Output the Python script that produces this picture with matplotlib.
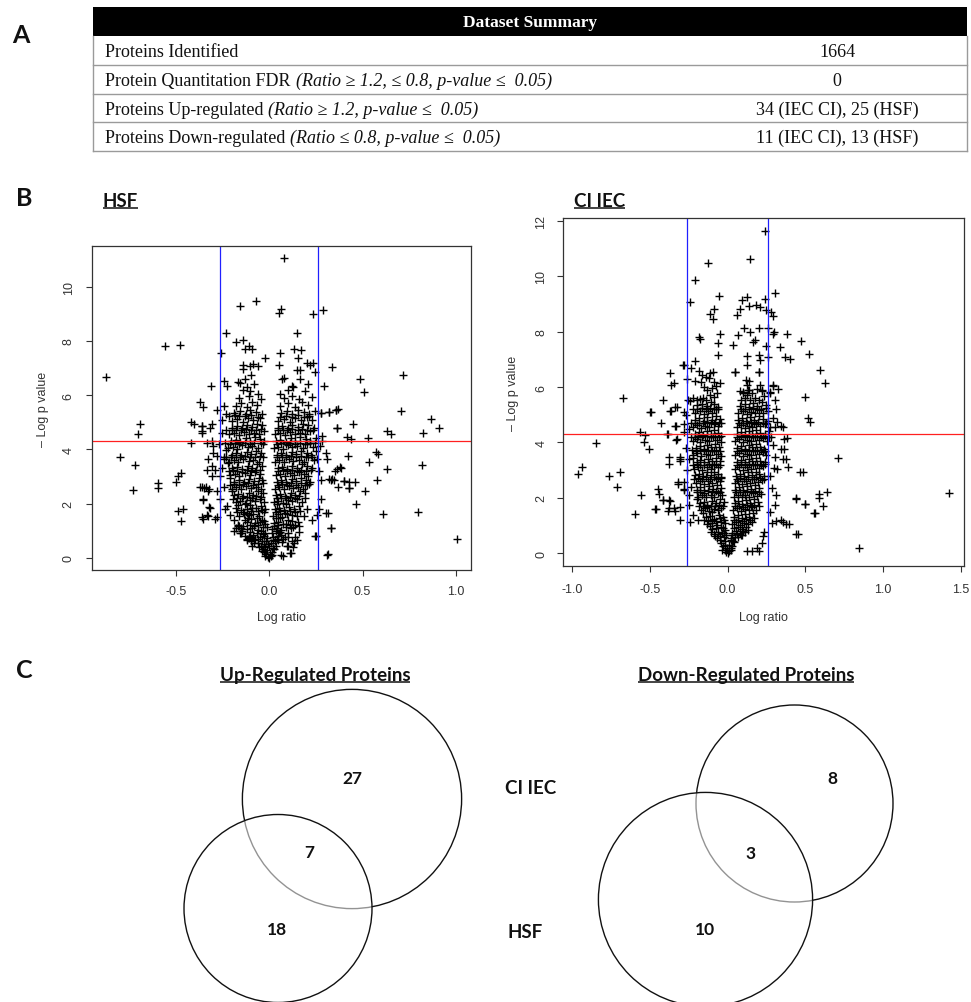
import numpy as np
import matplotlib
matplotlib.use("Agg")
import matplotlib.pyplot as plt
from matplotlib.patches import Circle, Rectangle

plt.rcParams['font.family'] = ['Liberation Sans', 'DejaVu Sans']
plt.rcParams['axes.unicode_minus'] = False

# ---------------- data ----------------
table_header = "Dataset Summary"
table_rows = ["Proteins Identified", "Protein Quantitation FDR",
              "Proteins Up-regulated", "Proteins Down-regulated"]
table_notes = ["", "(Ratio \u2265 1.2, \u2264 0.8, p-value \u2264  0.05)",
               "(Ratio \u2265 1.2, p-value \u2264  0.05)",
               "(Ratio \u2264 0.8, p-value \u2264  0.05)"]
table_values = ["1664", "0", "34 (IEC CI), 25 (HSF)", "11 (IEC CI), 13 (HSF)"]

pval_cut = 0.05
ratio_cut = 1.2

# HSF volcano (log ratio, -log p)
hsf_outer = [
    (-0.875, 6.67), (-0.80, 3.72), (-0.72, 3.42), (-0.73, 2.49), (-0.70, 4.58), (-0.69, 4.93),
    (-0.56, 7.82), (-0.48, 7.84), (-0.595, 2.77), (-0.595, 2.59), (-0.50, 2.80), (-0.49, 3.02),
    (-0.47, 3.14), (-0.49, 1.72), (-0.46, 1.81), (-0.47, 1.35), (-0.42, 4.25), (-0.42, 4.99),
    (-0.40, 4.95), (-0.37, 5.73), (-0.355, 5.58), (-0.36, 4.86), (-0.36, 4.62), (-0.37, 2.61),
    (-0.34, 2.61), (-0.355, 2.12), (-0.355, 1.42), (-0.33, 1.54), (-0.32, 1.87), (-0.31, 6.32),
    (-0.32, 2.52), (-0.29, 1.42), (-0.23, 8.31), (-0.26, 7.57), (-0.24, 6.53), (-0.225, 6.34),
    (-0.175, 7.97), (-0.14, 8.03), (-0.157, 9.28), (-0.07, 9.48), (-0.02, 7.36), (0.079, 11.05),
    (0.052, 9.03), (0.064, 9.17), (0.236, 9.01), (0.286, 9.15), (0.15, 8.31), (0.335, 7.02),
    (0.296, 6.34), (0.484, 6.59), (0.51, 6.10), (0.716, 6.74), (0.704, 5.42), (0.864, 5.11),
    (0.912, 4.78), (0.825, 4.62), (0.82, 3.42), (0.448, 4.95), (0.418, 4.46), (0.44, 4.37),
    (0.53, 4.43), (0.632, 4.68), (0.654, 4.56), (0.36, 5.44), (0.37, 5.47), (0.364, 4.77),
    (0.323, 5.38), (0.279, 5.33), (0.382, 3.33), (0.355, 3.20), (0.42, 3.76), (0.40, 2.83),
    (0.427, 2.80), (0.462, 2.80), (0.427, 2.59), (0.368, 2.61), (0.32, 2.89), (0.334, 2.89),
    (0.534, 3.55), (0.57, 3.90), (0.582, 3.82), (0.632, 3.29), (0.579, 2.86), (0.512, 2.46),
    (0.466, 1.99), (0.61, 1.60), (0.796, 1.69), (1.004, 0.70), (0.316, 1.64), (0.332, 1.08),
    (0.314, 0.12), (0.248, 0.80), (0.075, 0.06), (0.11, 0.18),
]
hsf_edge = [
    (-0.36, 4.86), (-0.36, 4.67), (-0.315, 4.80), (-0.307, 4.92), (-0.334, 4.24), (-0.307, 4.30),
    (-0.298, 4.12), (-0.298, 3.87), (-0.28, 3.75), (-0.325, 3.63), (-0.307, 3.38), (-0.29, 3.25),
    (-0.334, 3.25), (-0.307, 3.00), (-0.262, 3.00), (-0.253, 3.32), (-0.244, 3.63), (-0.36, 2.60),
    (-0.348, 2.58), (-0.325, 2.46), (-0.28, 2.46), (-0.244, 2.60), (-0.352, 2.15), (-0.316, 1.84),
    (-0.262, 2.15), (-0.235, 1.78), (-0.208, 1.59), (-0.19, 1.40), (-0.226, 1.90), (-0.28, 1.50),
    (-0.36, 1.50), (-0.334, 1.56), (-0.25, 4.60), (-0.27, 4.20), (-0.24, 3.70), (-0.28, 5.45),
    (-0.25, 5.10), (-0.23, 5.30), (-0.24, 5.60), (-0.143, 0.97), (-0.161, 1.16), (-0.179, 1.10),
    (-0.118, 0.67), (-0.10, 0.79), (-0.091, 0.42), (-0.19, 1.00), (-0.168, 1.17), (-0.154, 0.92),
    (-0.109, 0.74), (-0.082, 0.55),
    (0.276, 5.35), (0.32, 5.37), (0.356, 5.45), (0.365, 4.79), (0.283, 4.50), (0.283, 4.30),
    (0.274, 4.12), (0.258, 3.63), (0.267, 3.20), (0.303, 3.87), (0.312, 3.63), (0.276, 2.88),
    (0.33, 2.88), (0.347, 2.88), (0.365, 3.26), (0.383, 3.32), (0.40, 2.82), (0.428, 2.58),
    (0.276, 2.15), (0.267, 1.78), (0.303, 1.66), (0.258, 1.59), (0.33, 1.10), (0.312, 0.11),
    (0.249, 0.79), (0.231, 1.41), (0.204, 1.78), (0.186, 1.53), (0.159, 1.16), (0.15, 0.67),
    (0.133, 0.55), (0.115, 0.17), (0.097, 0.42), (0.061, 0.11), (0.12, 0.60), (0.14, 0.75),
    (0.10, 0.45), (0.16, 0.95), (0.13, 0.40),
]
hsf_left = [
    (-0.005, 0.03), (0.0, 0.0), (-0.015, 0.12), (-0.025, 0.20), (-0.01, 0.28), (-0.035, 0.33),
    (-0.02, 0.40), (-0.045, 0.45), (-0.03, 0.50), (-0.06, 0.55), (-0.04, 0.60), (-0.015, 0.62),
    (-0.075, 0.70), (-0.05, 0.75), (-0.03, 0.80), (-0.085, 0.85), (-0.065, 0.90), (-0.02, 0.92),
    (-0.045, 0.97), (-0.10, 0.95), (-0.08, 0.65), (-0.15, 0.90), (-0.13, 0.80), (-0.12, 0.70),
    (-0.12, 1.05), (-0.09, 1.10), (-0.06, 1.02), (-0.035, 1.15), (-0.105, 1.22), (-0.075, 1.28),
    (-0.05, 1.30), (-0.02, 1.25), (-0.13, 1.38), (-0.095, 1.42), (-0.065, 1.45), (-0.04, 1.40),
    (-0.15, 1.10), (-0.115, 1.48), (-0.16, 1.55), (-0.135, 1.60), (-0.11, 1.58), (-0.085, 1.62),
    (-0.055, 1.55), (-0.03, 1.68), (-0.15, 1.75), (-0.12, 1.80), (-0.095, 1.72), (-0.07, 1.85),
    (-0.045, 1.90), (-0.165, 1.95), (-0.13, 1.97), (-0.10, 1.93), (-0.02, 1.80), (-0.18, 2.05),
    (-0.155, 2.10), (-0.125, 2.02), (-0.10, 2.12), (-0.075, 2.08), (-0.05, 2.15), (-0.03, 2.05),
    (-0.19, 2.30), (-0.165, 2.35), (-0.14, 2.28), (-0.11, 2.40), (-0.085, 2.32), (-0.06, 2.45),
    (-0.035, 2.38), (-0.20, 2.48), (-0.20, 2.55), (-0.175, 2.60), (-0.15, 2.52), (-0.125, 2.65),
    (-0.095, 2.58), (-0.07, 2.62), (-0.045, 2.55), (-0.19, 2.80), (-0.16, 2.85), (-0.135, 2.78),
    (-0.11, 2.90), (-0.08, 2.82), (-0.055, 2.95), (-0.035, 2.75), (-0.21, 2.95), (-0.21, 3.05),
    (-0.185, 3.10), (-0.16, 3.02), (-0.13, 3.12), (-0.105, 3.05), (-0.075, 3.15), (-0.05, 3.08),
    (-0.20, 3.30), (-0.17, 3.35), (-0.145, 3.28), (-0.115, 3.40), (-0.09, 3.32), (-0.065, 3.45),
    (-0.04, 3.38), (-0.22, 3.48), (-0.215, 3.55), (-0.19, 3.60), (-0.165, 3.52), (-0.14, 3.65),
    (-0.11, 3.58), (-0.085, 3.62), (-0.055, 3.55), (-0.035, 3.70), (-0.20, 3.80), (-0.175, 3.85),
    (-0.15, 3.78), (-0.12, 3.90), (-0.095, 3.82), (-0.07, 3.95), (-0.045, 3.88), (-0.23, 3.98),
    (-0.22, 4.05), (-0.195, 4.10), (-0.17, 4.02), (-0.145, 4.15), (-0.115, 4.08), (-0.09, 4.12),
    (-0.06, 4.05), (-0.035, 4.18), (-0.205, 4.30), (-0.18, 4.35), (-0.155, 4.28), (-0.125, 4.40),
    (-0.10, 4.32), (-0.075, 4.45), (-0.05, 4.38), (-0.025, 4.30), (-0.215, 4.55), (-0.19, 4.60),
    (-0.16, 4.52), (-0.135, 4.65), (-0.11, 4.58), (-0.08, 4.62), (-0.055, 4.55), (-0.03, 4.68),
    (-0.20, 4.80), (-0.17, 4.85), (-0.145, 4.78), (-0.12, 4.90), (-0.09, 4.82), (-0.065, 4.95),
    (-0.04, 4.88), (-0.20, 5.05), (-0.17, 5.12), (-0.14, 5.02), (-0.115, 5.15), (-0.085, 5.08),
    (-0.06, 5.20), (-0.19, 5.35), (-0.155, 5.40), (-0.125, 5.30), (-0.10, 5.45), (-0.07, 5.38),
    (-0.04, 5.30), (-0.18, 5.60), (-0.15, 5.70), (-0.12, 5.55), (-0.09, 5.75), (-0.065, 5.62),
    (-0.16, 5.90), (-0.11, 5.95), (-0.045, 5.85), (-0.167, 6.48), (-0.154, 6.46), (-0.12, 6.30),
    (-0.10, 6.15), (-0.08, 6.40), (-0.095, 6.73), (-0.14, 6.20), (-0.06, 6.05), (-0.13, 6.60),
    (-0.142, 7.10), (-0.142, 6.98), (-0.102, 7.06), (-0.086, 7.14), (-0.061, 7.08), (-0.131, 7.70),
    (-0.106, 7.82), (-0.09, 7.72),
]
hsf_left_fill = [
    (-0.02, 0.06), (-0.04, 0.25), (-0.005, 0.50), (-0.055, 0.40), (-0.11, 0.78), (-0.095, 0.60),
    (-0.058, 0.68), (-0.035, 0.88), (-0.012, 0.72), (-0.165, 1.22), (-0.14, 1.18), (-0.118, 1.30),
    (-0.082, 1.16), (-0.058, 1.20), (-0.03, 1.36), (-0.01, 1.12), (-0.172, 1.68), (-0.142, 1.70),
    (-0.118, 1.66), (-0.092, 1.82), (-0.062, 1.72), (-0.04, 1.76), (-0.175, 1.85), (-0.195, 2.18),
    (-0.17, 2.22), (-0.145, 2.20), (-0.118, 2.25), (-0.09, 2.20), (-0.068, 2.26), (-0.042, 2.24),
    (-0.21, 2.68), (-0.188, 2.72), (-0.16, 2.70), (-0.14, 2.72), (-0.112, 2.76), (-0.085, 2.70),
    (-0.06, 2.72), (-0.04, 2.85), (-0.215, 3.20), (-0.195, 3.22), (-0.17, 3.20), (-0.148, 3.18),
    (-0.12, 3.24), (-0.095, 3.20), (-0.07, 3.25), (-0.048, 3.22), (-0.23, 3.72), (-0.205, 3.70),
    (-0.18, 3.72), (-0.155, 3.70), (-0.128, 3.74), (-0.10, 3.70), (-0.075, 3.72), (-0.05, 3.76),
    (-0.235, 4.22), (-0.21, 4.20), (-0.185, 4.22), (-0.16, 4.20), (-0.132, 4.24), (-0.105, 4.20),
    (-0.08, 4.22), (-0.045, 4.25), (-0.23, 4.72), (-0.20, 4.70), (-0.178, 4.72), (-0.15, 4.70),
    (-0.125, 4.74), (-0.098, 4.70), (-0.07, 4.72), (-0.045, 4.75), (-0.215, 5.22), (-0.185, 5.25),
    (-0.16, 5.22), (-0.13, 5.22), (-0.095, 5.26), (-0.05, 5.15),
]
hsf_right = [
    (0.01, 0.06), (0.005, 0.15), (0.015, 0.22), (0.025, 0.31), (0.0, 0.42), (0.035, 0.44),
    (0.01, 0.55), (0.03, 0.60), (0.05, 0.65), (0.07, 0.58), (0.02, 0.75), (0.045, 0.80),
    (0.065, 0.85), (0.085, 0.78), (0.015, 0.92), (0.035, 0.97), (0.06, 0.95), (0.10, 0.90),
    (0.015, 1.05), (0.04, 1.10), (0.065, 1.02), (0.09, 1.12), (0.115, 1.08), (0.025, 1.28),
    (0.05, 1.32), (0.075, 1.25), (0.10, 1.40), (0.125, 1.35), (0.035, 1.45), (0.06, 1.48),
    (0.14, 1.20), (0.02, 1.55), (0.045, 1.60), (0.07, 1.52), (0.095, 1.62), (0.12, 1.58),
    (0.15, 1.55), (0.03, 1.78), (0.055, 1.82), (0.08, 1.75), (0.105, 1.88), (0.135, 1.80),
    (0.16, 1.92), (0.04, 1.97), (0.09, 1.98), (0.025, 2.05), (0.05, 2.10), (0.075, 2.02),
    (0.10, 2.12), (0.125, 2.08), (0.15, 2.15), (0.175, 2.05), (0.035, 2.30), (0.06, 2.35),
    (0.085, 2.28), (0.115, 2.40), (0.14, 2.32), (0.165, 2.45), (0.19, 2.38), (0.03, 2.55),
    (0.055, 2.60), (0.08, 2.52), (0.105, 2.65), (0.13, 2.58), (0.155, 2.62), (0.18, 2.55),
    (0.205, 2.70), (0.04, 2.80), (0.065, 2.85), (0.09, 2.78), (0.12, 2.90), (0.145, 2.82),
    (0.17, 2.95), (0.195, 2.88), (0.22, 2.80), (0.035, 3.05), (0.06, 3.10), (0.085, 3.02),
    (0.11, 3.12), (0.135, 3.05), (0.16, 3.15), (0.185, 3.08), (0.21, 3.02), (0.045, 3.30),
    (0.07, 3.35), (0.095, 3.28), (0.12, 3.40), (0.15, 3.32), (0.175, 3.45), (0.20, 3.38),
    (0.23, 3.30), (0.03, 3.55), (0.055, 3.60), (0.08, 3.52), (0.105, 3.65), (0.13, 3.58),
    (0.16, 3.62), (0.185, 3.55), (0.21, 3.70), (0.24, 3.60), (0.04, 3.80), (0.065, 3.85),
    (0.09, 3.78), (0.12, 3.90), (0.145, 3.82), (0.17, 3.95), (0.20, 3.88), (0.225, 3.80),
    (0.25, 3.95), (0.025, 4.05), (0.05, 4.10), (0.075, 4.02), (0.10, 4.15), (0.125, 4.08),
    (0.15, 4.12), (0.18, 4.05), (0.205, 4.18), (0.235, 4.10), (0.035, 4.30), (0.06, 4.35),
    (0.09, 4.28), (0.115, 4.40), (0.14, 4.32), (0.165, 4.45), (0.195, 4.38), (0.22, 4.30),
    (0.25, 4.40), (0.03, 4.55), (0.06, 4.60), (0.085, 4.52), (0.11, 4.65), (0.14, 4.58),
    (0.165, 4.62), (0.19, 4.55), (0.22, 4.68), (0.045, 4.80), (0.07, 4.85), (0.10, 4.78),
    (0.125, 4.90), (0.155, 4.82), (0.18, 4.95), (0.21, 4.88), (0.24, 4.80), (0.05, 5.05),
    (0.08, 5.12), (0.11, 5.02), (0.14, 5.15), (0.17, 5.08), (0.20, 5.20), (0.23, 5.10),
    (0.065, 5.35), (0.095, 5.40), (0.125, 5.30), (0.155, 5.45), (0.185, 5.38), (0.215, 5.30),
    (0.245, 5.42), (0.06, 5.60), (0.10, 5.70), (0.14, 5.55), (0.175, 5.75), (0.21, 5.62),
    (0.08, 5.90), (0.125, 5.95), (0.16, 5.85), (0.23, 5.92), (0.082, 6.65), (0.07, 6.61),
    (0.163, 6.58), (0.124, 6.34), (0.13, 6.30), (0.10, 6.20), (0.19, 6.15), (0.21, 6.40),
    (0.06, 6.05), (0.247, 6.86), (0.15, 6.93), (0.163, 6.93), (0.053, 7.10), (0.204, 7.20),
    (0.217, 7.12), (0.235, 7.17), (0.152, 7.36), (0.059, 7.56), (0.133, 7.70), (0.168, 7.67),
]
hsf_right_fill = [
    (0.015, 0.10), (0.02, 0.36), (0.02, 0.66), (0.04, 0.70), (0.075, 0.70), (0.10, 0.75),
    (0.055, 0.90), (0.028, 1.18), (0.05, 1.20), (0.088, 1.24), (0.11, 1.22), (0.13, 1.15),
    (0.155, 1.30), (0.035, 1.70), (0.06, 1.72), (0.085, 1.66), (0.11, 1.74), (0.14, 1.70),
    (0.165, 1.72), (0.04, 2.20), (0.065, 2.22), (0.09, 2.20), (0.112, 2.24), (0.14, 2.20),
    (0.162, 2.26), (0.19, 2.20), (0.045, 2.70), (0.07, 2.72), (0.095, 2.70), (0.118, 2.74),
    (0.142, 2.70), (0.168, 2.76), (0.19, 2.70), (0.215, 2.72), (0.045, 3.20), (0.072, 3.22),
    (0.098, 3.20), (0.122, 3.25), (0.148, 3.20), (0.172, 3.24), (0.198, 3.20), (0.222, 3.22),
    (0.042, 3.70), (0.068, 3.72), (0.092, 3.70), (0.118, 3.75), (0.145, 3.70), (0.172, 3.74),
    (0.198, 3.72), (0.228, 3.70), (0.04, 4.20), (0.065, 4.22), (0.088, 4.20), (0.112, 4.24),
    (0.138, 4.20), (0.165, 4.24), (0.192, 4.20), (0.22, 4.22), (0.245, 4.25), (0.045, 4.70),
    (0.072, 4.72), (0.098, 4.70), (0.125, 4.74), (0.152, 4.70), (0.178, 4.74), (0.205, 4.70),
    (0.235, 4.72), (0.06, 5.20), (0.092, 5.24), (0.125, 5.18), (0.155, 5.25), (0.185, 5.20),
    (0.215, 5.22),
]

# CI IEC volcano
ciiec_outer = [
    (-0.964, 2.86), (-0.936, 3.10), (-0.846, 3.97), (-0.764, 2.80), (-0.69, 2.94), (-0.709, 2.38),
    (-0.672, 5.61), (-0.597, 1.42), (-0.56, 2.09), (-0.565, 4.39), (-0.533, 4.27), (-0.535, 4.03),
    (-0.505, 3.76), (-0.497, 5.10), (-0.469, 1.59), (-0.447, 2.31), (-0.439, 2.16), (-0.432, 4.72),
    (-0.415, 5.55), (-0.417, 1.92), (-0.385, 4.30), (-0.38, 1.92), (-0.383, 1.53), (-0.373, 6.49),
    (-0.362, 6.07), (-0.347, 6.13), (-0.368, 5.14), (-0.377, 3.46), (-0.379, 3.21), (-0.347, 1.62),
    (-0.332, 4.60), (-0.325, 5.29), (-0.325, 4.11), (-0.319, 2.56), (-0.304, 1.20), (-0.308, 3.39),
    (-0.308, 1.68), (-0.287, 6.79), (-0.283, 5.11), (-0.28, 2.28), (-0.24, 9.07), (-0.21, 9.86),
    (-0.126, 10.46), (-0.058, 9.29), (-0.111, 8.65), (-0.09, 8.83), (-0.094, 8.47), (-0.186, 7.81),
    (-0.176, 7.75), (-0.051, 7.93), (-0.064, 7.60), (-0.062, 7.15), (-0.208, 6.93), (0.032, 7.51),
    (0.049, 6.55), (0.146, 10.60), (0.238, 11.62), (0.306, 9.38), (0.092, 9.13), (0.124, 9.25),
    (0.238, 9.16), (0.06, 8.59), (0.081, 8.83), (0.135, 8.92), (0.184, 8.95), (0.206, 8.87),
    (0.248, 8.77), (0.278, 8.71), (0.291, 8.57), (0.064, 7.87), (0.103, 8.14), (0.146, 7.97),
    (0.199, 8.14), (0.257, 8.14), (0.295, 7.90), (0.30, 7.98), (0.334, 7.45), (0.385, 7.90),
    (0.473, 7.66), (0.368, 7.09), (0.403, 7.02), (0.527, 7.19), (0.163, 7.63), (0.178, 7.69),
    (0.246, 7.49), (0.124, 7.12), (0.199, 7.16), (0.206, 6.97), (0.263, 7.08), (0.199, 6.55),
    (0.595, 6.63), (0.63, 6.13), (0.495, 5.65), (0.52, 4.87), (0.529, 4.75), (0.713, 3.45),
    (0.484, 2.92), (0.439, 1.98), (0.499, 1.77), (0.557, 1.44), (0.612, 1.71), (0.591, 2.16),
    (0.591, 2.01), (0.642, 2.22), (0.452, 0.69), (0.848, 0.19), (1.426, 2.19), (0.385, 4.15),
    (0.364, 3.76), (0.375, 3.39), (0.388, 3.11), (0.355, 1.14), (0.392, 1.06), (0.302, 4.57),
    (0.355, 4.57),
]
ciiec_edge = [
    (-0.49, 5.11), (-0.364, 5.13), (-0.336, 5.29), (-0.336, 4.60), (-0.282, 4.66), (-0.39, 4.29),
    (-0.33, 4.09), (-0.282, 4.39), (-0.304, 3.49), (-0.308, 3.33), (-0.32, 2.52), (-0.415, 1.92),
    (-0.372, 1.88), (-0.379, 1.62), (-0.336, 1.53), (-0.464, 1.59), (-0.24, 1.13), (-0.282, 2.34),
    (-0.282, 2.58), (-0.25, 2.10), (-0.25, 1.74), (-0.26, 3.00), (-0.27, 3.80), (-0.25, 4.50),
    (-0.27, 5.00), (-0.236, 6.67), (-0.26, 6.30), (-0.25, 3.40), (-0.235, 2.40), (-0.22, 1.40),
    (0.302, 5.53), (0.313, 5.20), (0.291, 4.87), (0.319, 4.75), (0.345, 4.61), (0.366, 4.12),
    (0.345, 3.76), (0.356, 3.41), (0.302, 3.49), (0.298, 3.09), (0.319, 3.06), (0.291, 3.90),
    (0.466, 2.92), (0.313, 2.10), (0.285, 2.36), (0.302, 1.74), (0.285, 1.08), (0.313, 1.16),
    (0.345, 1.20), (0.377, 1.05), (0.44, 0.70), (0.44, 2.00), (0.50, 1.77), (0.563, 1.45),
    (0.235, 0.79), (0.23, 0.61), (0.22, 0.37), (0.188, 0.19), (0.156, 0.07), (0.124, 0.07),
    (0.20, 0.10), (0.27, 2.80), (0.275, 1.50), (0.28, 4.20), (0.27, 5.80), (0.29, 6.05),
]
ciiec_left = [
    (0.0, 0.0), (-0.01, 0.05), (-0.02, 0.14), (-0.005, 0.20), (-0.03, 0.28), (-0.04, 0.38),
    (-0.015, 0.45), (-0.05, 0.50), (-0.07, 0.55), (-0.05, 0.62), (-0.025, 0.58), (-0.09, 0.70),
    (-0.06, 0.78), (-0.035, 0.75), (-0.01, 0.68), (-0.10, 0.88), (-0.075, 0.92), (-0.045, 0.95),
    (-0.02, 0.85), (-0.115, 0.98), (-0.13, 1.05), (-0.10, 1.10), (-0.07, 1.02), (-0.045, 1.15),
    (-0.02, 1.08), (-0.14, 1.30), (-0.115, 1.35), (-0.085, 1.25), (-0.055, 1.40), (-0.03, 1.32),
    (-0.16, 1.45), (-0.19, 1.20), (-0.10, 1.48), (-0.17, 1.55), (-0.145, 1.62), (-0.12, 1.52),
    (-0.09, 1.60), (-0.065, 1.55), (-0.04, 1.65), (-0.18, 1.80), (-0.155, 1.85), (-0.13, 1.75),
    (-0.10, 1.88), (-0.075, 1.80), (-0.05, 1.95), (-0.025, 1.85), (-0.20, 1.98), (-0.19, 2.05),
    (-0.165, 2.12), (-0.14, 2.02), (-0.11, 2.10), (-0.085, 2.05), (-0.06, 2.18), (-0.035, 2.10),
    (-0.20, 2.30), (-0.175, 2.38), (-0.15, 2.28), (-0.12, 2.42), (-0.095, 2.32), (-0.07, 2.45),
    (-0.045, 2.35), (-0.205, 2.55), (-0.18, 2.62), (-0.155, 2.52), (-0.125, 2.60), (-0.10, 2.55),
    (-0.075, 2.68), (-0.05, 2.60), (-0.21, 2.82), (-0.185, 2.88), (-0.16, 2.78), (-0.135, 2.92),
    (-0.11, 2.82), (-0.085, 2.95), (-0.06, 2.85), (-0.04, 2.72), (-0.215, 3.05), (-0.19, 3.12),
    (-0.165, 3.02), (-0.135, 3.10), (-0.11, 3.05), (-0.085, 3.18), (-0.06, 3.10), (-0.20, 3.30),
    (-0.175, 3.38), (-0.15, 3.28), (-0.125, 3.42), (-0.10, 3.32), (-0.075, 3.45), (-0.05, 3.35),
    (-0.225, 3.45), (-0.22, 3.55), (-0.195, 3.62), (-0.17, 3.52), (-0.14, 3.60), (-0.115, 3.55),
    (-0.09, 3.68), (-0.065, 3.60), (-0.045, 3.52), (-0.205, 3.80), (-0.18, 3.88), (-0.155, 3.78),
    (-0.13, 3.92), (-0.105, 3.82), (-0.08, 3.95), (-0.055, 3.85), (-0.225, 4.05), (-0.20, 4.12),
    (-0.175, 4.02), (-0.145, 4.10), (-0.12, 4.05), (-0.095, 4.18), (-0.07, 4.10), (-0.045, 4.02),
    (-0.21, 4.30), (-0.185, 4.38), (-0.16, 4.28), (-0.135, 4.42), (-0.11, 4.32), (-0.085, 4.45),
    (-0.06, 4.35), (-0.04, 4.25), (-0.225, 4.55), (-0.20, 4.62), (-0.17, 4.52), (-0.145, 4.60),
    (-0.12, 4.55), (-0.09, 4.68), (-0.065, 4.60), (-0.045, 4.72), (-0.21, 4.80), (-0.185, 4.88),
    (-0.155, 4.78), (-0.13, 4.92), (-0.10, 4.82), (-0.075, 4.95), (-0.05, 4.85), (-0.21, 5.05),
    (-0.18, 5.12), (-0.15, 5.02), (-0.125, 5.15), (-0.10, 5.08), (-0.075, 5.20), (-0.195, 5.35),
    (-0.165, 5.40), (-0.135, 5.30), (-0.11, 5.45), (-0.085, 5.38), (-0.06, 5.28), (-0.255, 5.55),
    (-0.24, 5.48), (-0.22, 5.60), (-0.20, 5.52), (-0.18, 5.58), (-0.16, 5.62), (-0.14, 5.55),
    (-0.115, 5.70), (-0.09, 5.65), (-0.07, 5.80), (-0.13, 5.90), (-0.10, 5.95), (-0.184, 6.57),
    (-0.164, 6.43), (-0.137, 6.37), (-0.111, 6.49), (-0.094, 6.55), (-0.122, 6.31), (-0.085, 6.17),
    (-0.051, 6.13), (-0.072, 6.03), (-0.171, 6.19), (-0.153, 6.01), (-0.28, 6.80), (-0.21, 6.20),
]
ciiec_left_fill = [
    (-0.02, 0.30), (-0.035, 0.12), (-0.08, 0.62), (-0.062, 0.70), (-0.022, 0.72), (-0.105, 0.78),
    (-0.03, 0.90), (-0.15, 1.20), (-0.125, 1.18), (-0.098, 1.22), (-0.072, 1.18), (-0.048, 1.26),
    (-0.025, 1.20), (-0.185, 1.70), (-0.158, 1.72), (-0.132, 1.68), (-0.105, 1.72), (-0.08, 1.70),
    (-0.055, 1.74), (-0.03, 1.70), (-0.20, 2.20), (-0.175, 2.22), (-0.15, 2.18), (-0.125, 2.24),
    (-0.098, 2.20), (-0.072, 2.26), (-0.048, 2.22), (-0.215, 2.70), (-0.19, 2.72), (-0.165, 2.70),
    (-0.14, 2.74), (-0.115, 2.70), (-0.09, 2.74), (-0.065, 2.72), (-0.045, 2.76), (-0.225, 3.20),
    (-0.20, 3.22), (-0.175, 3.20), (-0.15, 3.18), (-0.122, 3.24), (-0.098, 3.20), (-0.072, 3.24),
    (-0.05, 3.20), (-0.23, 3.72), (-0.205, 3.70), (-0.18, 3.72), (-0.155, 3.70), (-0.128, 3.74),
    (-0.10, 3.70), (-0.075, 3.72), (-0.052, 3.70), (-0.235, 4.20), (-0.21, 4.20), (-0.188, 4.22),
    (-0.162, 4.20), (-0.135, 4.24), (-0.108, 4.20), (-0.082, 4.22), (-0.055, 4.20), (-0.235, 4.72),
    (-0.21, 4.70), (-0.185, 4.72), (-0.158, 4.70), (-0.132, 4.74), (-0.108, 4.70), (-0.08, 4.74),
    (-0.055, 4.70), (-0.225, 5.22), (-0.195, 5.20), (-0.165, 5.24), (-0.14, 5.20), (-0.112, 5.26),
    (-0.088, 5.22), (-0.065, 5.20),
]
ciiec_right = [
    (0.01, 0.08), (0.02, 0.12), (0.03, 0.25), (0.01, 0.32), (0.04, 0.40), (0.02, 0.48),
    (0.02, 0.55), (0.045, 0.60), (0.07, 0.58), (0.095, 0.65), (0.03, 0.75), (0.055, 0.80),
    (0.08, 0.72), (0.11, 0.78), (0.04, 0.92), (0.065, 0.97), (0.09, 0.88), (0.12, 0.95),
    (0.03, 1.05), (0.055, 1.12), (0.08, 1.02), (0.105, 1.10), (0.13, 1.05), (0.155, 1.15),
    (0.04, 1.30), (0.065, 1.38), (0.09, 1.28), (0.115, 1.42), (0.14, 1.32), (0.165, 1.45),
    (0.035, 1.55), (0.06, 1.62), (0.085, 1.52), (0.11, 1.60), (0.135, 1.55), (0.16, 1.68),
    (0.185, 1.58), (0.045, 1.80), (0.07, 1.88), (0.095, 1.78), (0.12, 1.92), (0.145, 1.82),
    (0.17, 1.95), (0.195, 1.85), (0.04, 2.05), (0.065, 2.12), (0.09, 2.02), (0.115, 2.10),
    (0.14, 2.05), (0.165, 2.18), (0.19, 2.08), (0.215, 2.15), (0.05, 2.30), (0.075, 2.38),
    (0.10, 2.28), (0.125, 2.42), (0.15, 2.32), (0.175, 2.45), (0.20, 2.35), (0.045, 2.55),
    (0.07, 2.62), (0.095, 2.52), (0.12, 2.60), (0.145, 2.55), (0.17, 2.68), (0.195, 2.58),
    (0.22, 2.65), (0.055, 2.80), (0.08, 2.88), (0.105, 2.78), (0.13, 2.92), (0.155, 2.82),
    (0.18, 2.95), (0.205, 2.85), (0.235, 2.78), (0.05, 3.05), (0.075, 3.12), (0.10, 3.02),
    (0.125, 3.10), (0.15, 3.05), (0.175, 3.18), (0.20, 3.08), (0.225, 3.15), (0.06, 3.30),
    (0.085, 3.38), (0.11, 3.28), (0.135, 3.42), (0.16, 3.32), (0.185, 3.45), (0.21, 3.35),
    (0.24, 3.30), (0.05, 3.55), (0.075, 3.62), (0.10, 3.52), (0.125, 3.60), (0.15, 3.55),
    (0.175, 3.68), (0.20, 3.58), (0.225, 3.65), (0.25, 3.55), (0.06, 3.80), (0.085, 3.88),
    (0.11, 3.78), (0.135, 3.92), (0.16, 3.82), (0.185, 3.95), (0.21, 3.85), (0.235, 3.78),
    (0.05, 4.05), (0.075, 4.12), (0.10, 4.02), (0.125, 4.10), (0.15, 4.05), (0.175, 4.18),
    (0.20, 4.08), (0.225, 4.15), (0.255, 4.05), (0.06, 4.30), (0.085, 4.38), (0.11, 4.28),
    (0.135, 4.42), (0.16, 4.32), (0.185, 4.45), (0.21, 4.35), (0.24, 4.30), (0.265, 4.42),
    (0.06, 4.55), (0.085, 4.62), (0.11, 4.52), (0.135, 4.60), (0.16, 4.55), (0.185, 4.68),
    (0.21, 4.58), (0.24, 4.65), (0.27, 4.55), (0.07, 4.80), (0.095, 4.88), (0.12, 4.78),
    (0.145, 4.92), (0.17, 4.82), (0.20, 4.95), (0.23, 4.85), (0.26, 4.78), (0.07, 5.05),
    (0.10, 5.12), (0.125, 5.02), (0.15, 5.10), (0.175, 5.05), (0.20, 5.18), (0.23, 5.08),
    (0.26, 5.15), (0.08, 5.30), (0.11, 5.38), (0.14, 5.28), (0.165, 5.42), (0.19, 5.32),
    (0.22, 5.45), (0.25, 5.35), (0.085, 5.55), (0.115, 5.62), (0.145, 5.52), (0.175, 5.60),
    (0.205, 5.55), (0.235, 5.68), (0.10, 5.80), (0.13, 5.88), (0.16, 5.78), (0.19, 5.92),
    (0.22, 5.85), (0.125, 5.70), (0.12, 6.25), (0.135, 6.22), (0.124, 6.08), (0.081, 5.85),
    (0.098, 5.83), (0.135, 5.89), (0.21, 6.06), (0.221, 5.91), (0.291, 6.09), (0.323, 5.94),
    (0.27, 5.82), (0.124, 6.79), (0.199, 6.55), (0.05, 6.55),
]
ciiec_right_fill = [
    (0.025, 0.18), (0.035, 0.45), (0.03, 0.66), (0.06, 0.70), (0.085, 0.66), (0.10, 0.82),
    (0.13, 0.86), (0.042, 1.20), (0.068, 1.22), (0.092, 1.18), (0.118, 1.24), (0.142, 1.20),
    (0.17, 1.26), (0.048, 1.70), (0.072, 1.72), (0.098, 1.68), (0.122, 1.74), (0.148, 1.70),
    (0.172, 1.74), (0.20, 1.70), (0.052, 2.20), (0.078, 2.22), (0.102, 2.20), (0.128, 2.24),
    (0.152, 2.20), (0.178, 2.26), (0.205, 2.22), (0.058, 2.70), (0.082, 2.72), (0.108, 2.70),
    (0.132, 2.74), (0.158, 2.70), (0.182, 2.74), (0.208, 2.72), (0.232, 2.70), (0.062, 3.20),
    (0.088, 3.22), (0.112, 3.20), (0.138, 3.24), (0.162, 3.20), (0.188, 3.24), (0.212, 3.20),
    (0.238, 3.22), (0.062, 3.70), (0.088, 3.72), (0.112, 3.70), (0.138, 3.74), (0.162, 3.70),
    (0.188, 3.74), (0.212, 3.72), (0.24, 3.70), (0.062, 4.20), (0.088, 4.22), (0.112, 4.20),
    (0.138, 4.24), (0.162, 4.20), (0.188, 4.24), (0.212, 4.20), (0.24, 4.22), (0.265, 4.20),
    (0.072, 4.70), (0.098, 4.72), (0.122, 4.70), (0.148, 4.74), (0.172, 4.70), (0.198, 4.74),
    (0.225, 4.70), (0.25, 4.72), (0.085, 5.20), (0.112, 5.22), (0.138, 5.20), (0.162, 5.24),
    (0.188, 5.20), (0.215, 5.22), (0.245, 5.25),
]

# Venn counts: (CI IEC only, both, HSF only)
up_counts = [27, 7, 18]
down_counts = [8, 3, 10]

# ---------------- figure ----------------
W, H = 971, 1003
fig = plt.figure(figsize=(W / 100, H / 100), dpi=100)

# full-figure overlay in pixel coordinates for the table, labels and venns
over = fig.add_axes([0, 0, 1, 1])
over.set_xlim(0, W)
over.set_ylim(H, 0)
over.axis('off')
renderer = fig.canvas.get_renderer()


def text_x_extent(t):
    bb = t.get_window_extent(renderer=renderer)
    inv = over.transData.inverted()
    return inv.transform((bb.x0, 0))[0], inv.transform((bb.x1, 0))[0]


def underlined(x, y, s, size, ha='left'):
    t = over.text(x, y, s, ha=ha, va='baseline', fontsize=size,
                  fontweight='bold', family='Lato', color='#111111')
    x0, x1 = text_x_extent(t)
    over.plot([x0, x1], [y + 2.5, y + 2.5], color='#111111', lw=1.1,
              solid_capstyle='butt')
    return t


# ---- panel A: table ----
tx0, tx1 = 92.7, 967
row_edges = [36.7, 66, 95, 123, 152]
over.add_patch(Rectangle((tx0, 8.3), tx1 - tx0, 28.4, facecolor='black',
                         edgecolor='black', lw=0))
over.text((tx0 + tx1) / 2, 22.5, table_header, ha='center', va='center',
          color='white', fontsize=12.5, fontweight='bold', family='Liberation Serif')
for yl in row_edges[1:]:
    over.plot([tx0, tx1], [yl, yl], color='#9a9a9a', lw=1.0)
over.plot([tx0, tx0], [row_edges[0], row_edges[-1]], color='#9a9a9a', lw=1.0)
over.plot([tx1, tx1], [row_edges[0], row_edges[-1]], color='#9a9a9a', lw=1.0)
for i, (lab, note, val) in enumerate(zip(table_rows, table_notes, table_values)):
    yc = (row_edges[i] + row_edges[i + 1]) / 2 + 1
    t = over.text(105, yc, lab, ha='left', va='center', fontsize=13,
                  family='Liberation Serif', color='#111111')
    if note:
        _, xe = text_x_extent(t)
        over.text(xe + 5, yc, note, ha='left', va='center', fontsize=13,
                  family='Liberation Serif', style='italic', color='#111111')
    over.text(837, yc, val, ha='center', va='center', fontsize=13,
              family='Liberation Serif', color='#111111')

# panel letters
for letter, (lx, ly) in zip("ABC", [(21, 35.5), (24.5, 198.5), (24, 670)]):
    over.text(lx, ly, letter, ha='center', va='center', fontsize=18,
              fontweight='bold', family='Lato', color='#111111')


# ---- panel B: volcano plots ----
def volcano(rect, pts, xticks, yticks, xpad, ypad):
    ax = fig.add_axes(rect)
    ax.plot(pts[:, 0], pts[:, 1], '+', color='black', ms=5.2, mew=1.0)
    xr = pts[:, 0].max() - pts[:, 0].min()
    yr = pts[:, 1].max() - pts[:, 1].min()
    ax.set_xlim(pts[:, 0].min() - 0.04 * xr, pts[:, 0].max() + 0.04 * xr)
    ax.set_ylim(pts[:, 1].min() - 0.04 * yr, pts[:, 1].max() + 0.04 * yr)
    ax.axhline(-np.log2(pval_cut), color='#ff2020', lw=0.9)
    ax.axvline(np.log2(ratio_cut), color='#2020ff', lw=0.9)
    ax.axvline(-np.log2(ratio_cut), color='#2020ff', lw=0.9)
    ax.set_xticks(xticks)
    ax.set_xticklabels(['%.1f' % v for v in xticks])
    ax.set_yticks(yticks)
    ax.set_yticklabels([str(v) for v in yticks], rotation=90, va='center')
    ax.tick_params(axis='both', direction='out', length=4.3, width=0.8,
                   colors='#333333', labelsize=9)
    ax.tick_params(axis='x', pad=xpad)
    ax.tick_params(axis='y', pad=ypad)
    for s in ax.spines.values():
        s.set_color('#333333')
        s.set_linewidth(0.9)
    ax.set_xlabel('Log ratio', fontsize=9, color='#333333')
    ax.set_ylabel('\u2013 Log p value', fontsize=9, color='#333333')
    ax.xaxis.label.set_va('center')
    ax.yaxis.label.set_va('center')
    return ax


hsf_pts = np.array(hsf_outer + hsf_edge + hsf_left + hsf_left_fill
                   + hsf_right + hsf_right_fill)
ci_pts = np.array(ciiec_outer + ciiec_edge + ciiec_left + ciiec_left_fill
                  + ciiec_right + ciiec_right_fill)

ax1 = volcano([91.7 / W, 1 - 570.7 / H, 379 / W, 323.4 / H], hsf_pts,
              [-0.5, 0.0, 0.5, 1.0], [0, 2, 4, 6, 8, 10], 7.0, 8.0)
ax1.xaxis.set_label_coords(0.5, -0.146)
ax1.yaxis.set_label_coords(-0.128, 0.5)

ax2 = volcano([563 / W, 1 - 567.3 / H, 401 / W, 348 / H], ci_pts,
              [-1.0, -0.5, 0.0, 0.5, 1.0, 1.5], [0, 2, 4, 6, 8, 10, 12], 8.0, 7.0)
ax2.xaxis.set_label_coords(0.5, -0.146)
ax2.yaxis.set_label_coords(-0.125, 0.5)

underlined(102.7, 206.7, "HSF", 13.5)
underlined(574, 206.7, "CI IEC", 13.5)

# ---- panel C: venn diagrams ----
underlined(315, 680.7, "Up-Regulated Proteins", 13.5, ha='center')
underlined(746, 680.7, "Down-Regulated Proteins", 13.5, ha='center')


def venn(counts, top_c, bot_c, scale, label_pos):
    n_top = counts[0] + counts[1]
    n_bot = counts[2] + counts[1]
    over.add_patch(Circle(top_c, scale * np.sqrt(n_top), facecolor='none',
                          edgecolor='#111111', lw=1.0))
    over.add_patch(Circle(bot_c, scale * np.sqrt(n_bot), facecolor=(1, 1, 1, 0.55),
                          edgecolor='#111111', lw=1.0))
    for c, (px, py) in zip(counts, label_pos):
        over.text(px, py, str(c), ha='center', va='center', fontsize=12.5,
                  fontweight='bold', family='Lato', color='#111111')


venn(up_counts, (352, 800), (278, 909.5), 18.8,
     [(352, 779), (309, 853), (277, 930)])
venn(down_counts, (794.5, 804.5), (705.5, 900.5), 29.7,
     [(832, 779), (751, 854), (705, 930)])

over.text(530.5, 789, "CI IEC", ha='center', va='center', fontsize=13.5,
          fontweight='bold', family='Lato', color='#111111')
over.text(525.5, 932.5, "HSF", ha='center', va='center', fontsize=13.5,
          fontweight='bold', family='Lato', color='#111111')

fig.savefig('out.png', dpi=100)
